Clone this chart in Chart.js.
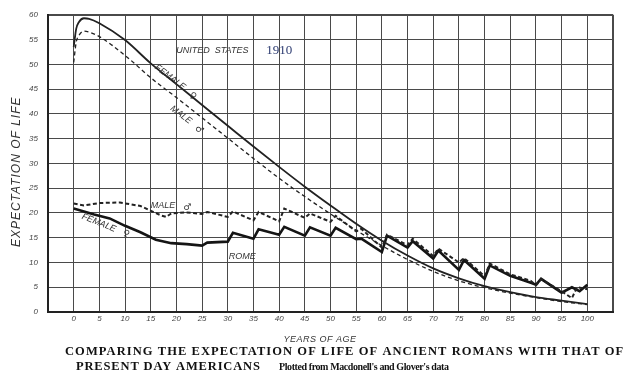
<!DOCTYPE html>
<html>
<head>
<meta charset="utf-8">
<script src="https://cdn.jsdelivr.net/npm/chart.js@4/dist/chart.umd.min.js"></script>
<style>
  html, body { margin: 0; padding: 0; background: #ffffff; }
  canvas { display: block; }
</style>
</head>
<body>
<canvas id="c" width="631" height="381"></canvas>
<script>
// ---- Data ----
const xTickValues = [0, 5, 10, 15, 20, 25, 30, 35, 40, 45, 50, 55, 60, 65, 70, 75, 80, 85, 90, 95, 100];
const yTickValues = [0, 5, 10, 15, 20, 25, 30, 35, 40, 45, 50, 55, 60];

// United States 1910
const usAges   = [0, 0.5, 1, 2, 3, 5, 10, 15, 20, 25, 30, 35, 40, 45, 50, 55, 60, 65, 70, 75, 80, 85, 90, 95, 100];
const usFemale = [53.5, 57.2, 58.5, 59.3, 59.2, 58.3, 54.9, 50.2, 46.0, 41.8, 37.6, 33.4, 29.3, 25.3, 21.5, 17.8, 14.4, 11.4, 8.8, 6.8, 5.2, 4.0, 3.0, 2.3, 1.6];
const usMale   = [50.4, 54.5, 55.8, 56.7, 56.5, 55.6, 51.8, 47.3, 43.3, 39.2, 35.1, 31.0, 27.0, 23.3, 19.8, 16.5, 13.4, 10.6, 8.2, 6.3, 4.9, 3.8, 2.9, 2.1, 1.5];

// Rome
const romeFemaleAges = [0, 4, 7, 10, 13, 16, 19, 22, 25, 26, 30, 31, 35, 36, 40, 41, 45, 46, 50, 51, 55, 56, 60, 61, 65, 66, 70, 71, 75, 76, 80, 81, 85, 89, 90, 91, 95, 97, 98.5, 100];
const romeFemale     = [20.9, 19.7, 18.9, 17.4, 16.1, 14.6, 13.9, 13.7, 13.4, 14.0, 14.2, 16.0, 14.8, 16.7, 15.6, 17.2, 15.4, 17.1, 15.4, 17.0, 14.7, 14.8, 12.1, 15.4, 13.0, 14.3, 10.8, 12.4, 8.5, 10.5, 6.7, 9.4, 7.3, 5.9, 5.5, 6.7, 3.9, 5.0, 4.2, 5.5];
const romeMaleAges   = [0, 2, 5, 9, 13, 17, 18, 19, 22, 25, 26, 30, 31, 35, 36, 40, 41, 45, 46, 50, 51, 55, 56, 60, 61, 65, 66, 70, 71, 75, 76, 80, 81, 85, 89, 90, 91, 95, 97, 98, 100];
const romeMale       = [21.9, 21.5, 22.0, 22.1, 21.4, 19.5, 19.2, 19.9, 20.1, 19.8, 20.2, 19.2, 20.3, 18.5, 20.2, 18.3, 20.9, 19.0, 19.9, 18.2, 19.4, 16.3, 16.8, 13.0, 15.6, 13.5, 14.8, 11.3, 12.8, 10.0, 10.9, 7.2, 9.8, 7.6, 6.3, 5.4, 6.6, 4.2, 2.8, 5.0, 4.6];

// Texts
const yTitle = 'EXPECTATION OF LIFE';
const xTitle = 'YEARS OF AGE';
const captionLine1 = 'COMPARING THE EXPECTATION OF LIFE OF ANCIENT ROMANS WITH THAT OF';
const captionLine2a = 'PRESENT DAY AMERICANS';
const captionLine2b = "Plotted from Macdonell's and Glover's data";

// Labels drawn inside the plot: [text, age, value, rotationDeg]
const plotLabels = [
  ['UNITED  STATES', 27.0, 52.8, 0],
  ['FEMALE', 18.8, 47.4, 37],
  ['\u2640', 23.2, 43.6, 37],
  ['MALE', 20.9, 39.8, 37],
  ['\u2642', 24.4, 36.8, 37],
  ['MALE', 17.4, 21.4, 0],
  ['\u2642', 22.1, 21.0, 0],
  ['FEMALE', 4.9, 18.0, 22],
  ['\u2640', 10.2, 15.8, 22],
  ['ROME', 32.8, 11.2, 0]
];
const yearLabel = ['1910', 37.5, 52.8];

const pts = (xs, ys) => xs.map((x, i) => ({ x: x, y: ys[i] }));

const ink = '#222222';
const handFont = '"Liberation Sans", Arial, sans-serif';

const textPlugin = {
  id: 'texts',
  afterDraw(chart) {
    const ctx = chart.ctx;
    const xs = chart.scales.x, ys = chart.scales.y;
    const ca = chart.chartArea;
    ctx.save();
    ctx.fillStyle = '#333';
    ctx.textBaseline = 'middle';
    ctx.textAlign = 'center';
    // plot labels
    plotLabels.forEach(([t, ax, vy, rot]) => {
      const px = xs.getPixelForValue(ax), py = ys.getPixelForValue(vy);
      ctx.save();
      ctx.translate(px, py);
      ctx.rotate(rot * Math.PI / 180);
      if (t.length === 1) ctx.font = '9px "DejaVu Sans", sans-serif';
      else ctx.font = 'italic 9px ' + handFont;
      ctx.fillText(t, 0, 0);
      ctx.restore();
    });
    // 1910
    ctx.font = '13px "Liberation Serif", serif';
    ctx.fillStyle = '#2b3a70';
    ctx.textAlign = 'left';
    ctx.fillText(yearLabel[0], xs.getPixelForValue(yearLabel[1]), ys.getPixelForValue(yearLabel[2]));

    // y title
    ctx.fillStyle = '#333';
    ctx.save();
    ctx.translate(ca.left - 31, ca.top + 157);
    ctx.rotate(-Math.PI / 2);
    ctx.textAlign = 'center';
    ctx.font = 'italic 12px ' + handFont;
    ctx.letterSpacing = '1px';
    ctx.fillText(yTitle, 0, 0);
    ctx.restore();

    // x title
    ctx.textAlign = 'center';
    ctx.font = 'italic 9px ' + handFont;
    ctx.letterSpacing = '0.5px';
    ctx.fillText(xTitle, ca.left + 272, ca.bottom + 27);

    // caption
    const fit = (text, x, y, w, font) => {
      ctx.font = font;
      ctx.letterSpacing = '0px';
      const nat = ctx.measureText(text).width;
      const sp = (w - nat) / Math.max(1, text.length - 1);
      ctx.letterSpacing = sp.toFixed(2) + 'px';
      ctx.textAlign = 'left';
      ctx.fillText(text, x, y);
    };
    ctx.fillStyle = '#111';
    fit(captionLine1, ca.left + 17, ca.bottom + 40, 558, 'bold 12.5px "Liberation Serif", serif');
    fit(captionLine2a, ca.left + 28, ca.bottom + 55, 184, 'bold 12.5px "Liberation Serif", serif');
    fit(captionLine2b, ca.left + 231, ca.bottom + 55, 170, 'bold 10px "Liberation Serif", serif');
    ctx.restore();
  }
};

const gridColor = '#4a4a4a';

new Chart(document.getElementById('c'), {
  type: 'line',
  data: {
    datasets: [
      { label: 'US Female', data: pts(usAges, usFemale), borderColor: ink, borderWidth: 1.8, pointRadius: 0, cubicInterpolationMode: 'monotone', fill: false },
      { label: 'US Male', data: pts(usAges, usMale), borderColor: ink, borderWidth: 1.3, borderDash: [4, 3], pointRadius: 0, cubicInterpolationMode: 'monotone', fill: false },
      { label: 'Rome Male', data: pts(romeMaleAges, romeMale), borderColor: ink, borderWidth: 2, borderDash: [4, 2.5], pointRadius: 0, tension: 0, fill: false },
      { label: 'Rome Female', data: pts(romeFemaleAges, romeFemale), borderColor: '#151515', borderWidth: 2.6, pointRadius: 0, tension: 0, fill: false }
    ]
  },
  options: {
    responsive: false,
    animation: false,
    devicePixelRatio: 1,
    layout: { padding: { top: 12, right: 18, left: 0, bottom: 0 } },
    plugins: { legend: { display: false }, tooltip: { enabled: false }, title: { display: false } },
    scales: {
      x: {
        type: 'linear', min: -5, max: 105,
        afterFit: s => { s.height = 69; },
        afterBuildTicks: s => { s.ticks = [-5].concat(xTickValues, [105]).map(v => ({ value: v })); },
        ticks: {
          autoSkip: false, maxRotation: 0, padding: 2, color: '#444',
          font: { family: handFont, size: 8, style: 'italic' },
          callback: v => (xTickValues.includes(v) ? String(v) : '')
        },
        grid: {
          drawTicks: false, color: gridColor,
          lineWidth: c => (c.tick && c.tick.value === 105 ? 2 : 1)
        },
        border: { display: true, color: '#222', width: 2 }
      },
      y: {
        min: 0, max: 60,
        afterFit: s => { s.width = 48; },
        afterBuildTicks: s => { s.ticks = yTickValues.map(v => ({ value: v })); },
        ticks: {
          padding: 10, color: '#444',
          font: { family: handFont, size: 8, style: 'italic' }
        },
        grid: {
          drawTicks: false, color: gridColor,
          lineWidth: c => (c.tick && c.tick.value === 60 ? 2 : 1)
        },
        border: { display: true, color: '#222', width: 2 }
      }
    }
  },
  plugins: [textPlugin]
});
</script>
</body>
</html>
